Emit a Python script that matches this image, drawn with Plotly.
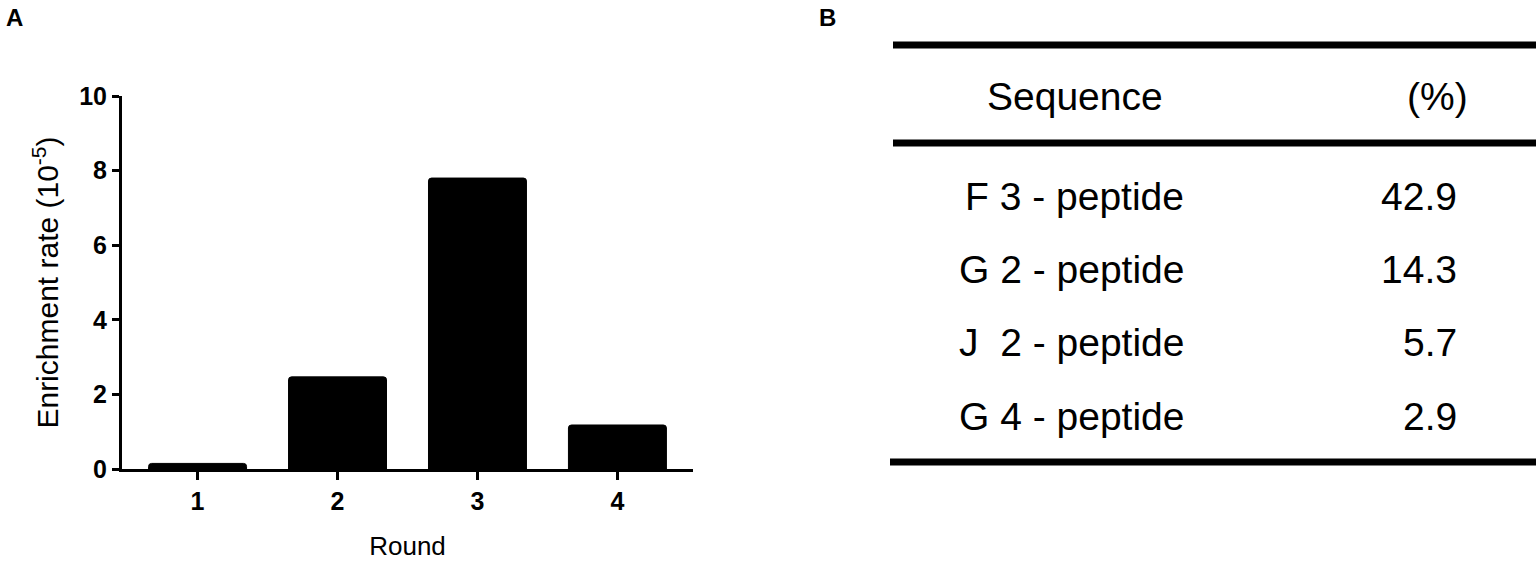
import plotly.graph_objects as go

# ---- data ----
rounds = ["1", "2", "3", "4"]
enrichment = [0.15, 2.47, 7.8, 1.18]
y_ticks = [0, 2, 4, 6, 8, 10]
table_header = ["Sequence", "(%)"]
sequences = ["F 3 - peptide", "G 2 - peptide", "J  2 - peptide", "G 4 - peptide"]
percents = ["42.9", "14.3", "5.7", "2.9"]

W, H = 1536, 561
FONT = "Arial, Liberation Sans, sans-serif"


def px(x):
    return x / W


def py(y):
    return 1 - y / H


fig = go.Figure(
    go.Bar(
        x=rounds,
        y=enrichment,
        width=0.7,
        marker=dict(color="black", line=dict(color="black", width=1)),
        showlegend=False,
    )
)

fig.update_layout(
    width=W,
    height=H,
    margin=dict(l=0, r=0, t=0, b=0),
    paper_bgcolor="white",
    plot_bgcolor="white",
    barcornerradius=3,
    font=dict(family=FONT, color="black"),
    xaxis=dict(
        domain=[px(122), px(693)],
        range=[-0.54, 3.54],
        showline=True,
        linecolor="black",
        linewidth=3,
        ticks="outside",
        ticklen=8,
        tickwidth=3,
        tickcolor="black",
        tickfont=dict(size=25, weight="bold", family=FONT),
        showgrid=False,
        zeroline=False,
        automargin=False,
        title=dict(text="Round", font=dict(size=26, family=FONT), standoff=24),
    ),
    yaxis=dict(
        domain=[py(469), py(96)],
        range=[0, 10],
        tickvals=y_ticks,
        showline=True,
        linecolor="black",
        linewidth=3,
        ticks="outside",
        ticklen=7,
        tickwidth=3,
        tickcolor="black",
        tickfont=dict(size=25, weight="bold", family=FONT),
        showgrid=False,
        zeroline=False,
        automargin=False,
        title=dict(text="Enrichment rate (10<sup>-5</sup>)", font=dict(size=30, family=FONT), standoff=12),
    ),
)

annotations = [
    dict(text="A", x=px(4), y=py(2), xanchor="left", yanchor="top", font=dict(size=24, weight="bold")),
    dict(text="B", x=px(817), y=py(2), xanchor="left", yanchor="top", font=dict(size=24, weight="bold")),
    dict(text=table_header[0], x=px(1075), y=py(97), xanchor="center", yanchor="middle", font=dict(size=39)),
    dict(text=table_header[1], x=px(1437), y=py(97), xanchor="center", yanchor="middle", font=dict(size=39)),
]

row_y = [196, 270, 342, 416]
for s, p, yy in zip(sequences, percents, row_y):
    annotations.append(dict(text=s.replace("  ", "&nbsp; "), x=px(1186), y=py(yy), xanchor="right",
                            yanchor="middle", font=dict(size=39)))
    annotations.append(dict(text=p, x=px(1459), y=py(yy), xanchor="right", yanchor="middle", font=dict(size=39)))

for a in annotations:
    a.update(xref="paper", yref="paper", showarrow=False)
fig.update_layout(annotations=annotations)

shapes = []
for yy, x0 in [(45, 893), (143, 893), (462, 890)]:
    shapes.append(dict(type="line", xref="paper", yref="paper", x0=px(x0), x1=1, y0=py(yy), y1=py(yy),
                       line=dict(color="black", width=7)))
fig.update_layout(shapes=shapes)

fig.write_html(
    "out.html",
    config={"displayModeBar": False},
    post_script="document.body.style.margin='0';document.body.style.overflow='hidden';",
)
